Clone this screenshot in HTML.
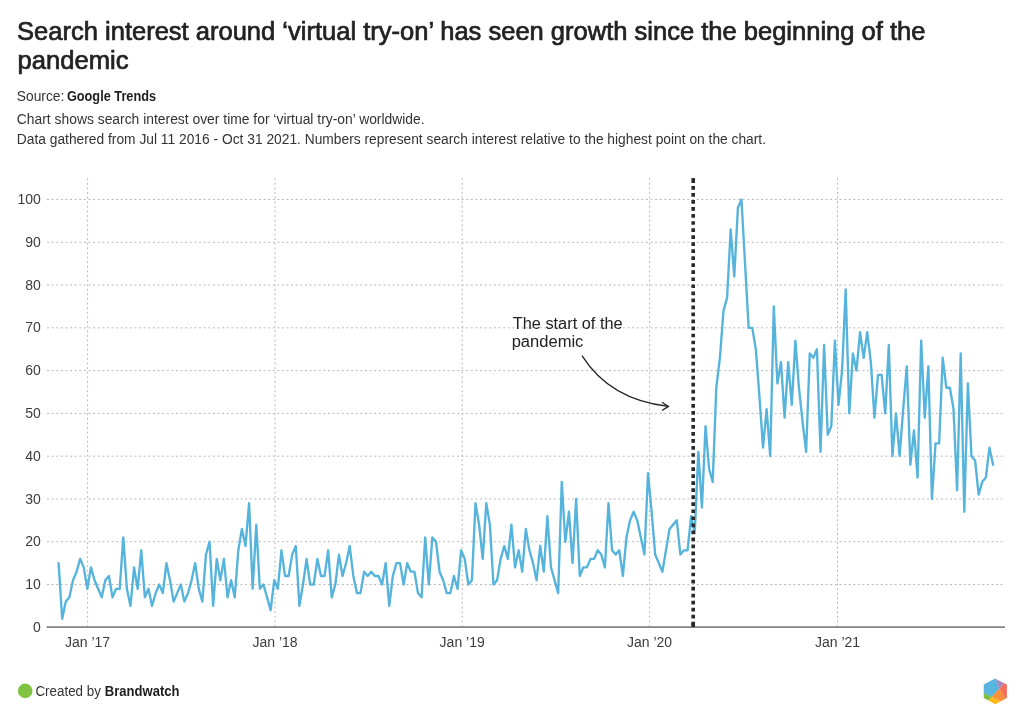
<!DOCTYPE html>
<html><head><meta charset="utf-8">
<style>
html,body{margin:0;padding:0;background:#fff;}
body{width:1024px;height:725px;position:relative;overflow:hidden;font-family:"Liberation Sans",sans-serif;}
svg{position:absolute;left:0;top:0;will-change:transform;}
</style></head><body>
<svg width="1024" height="725" viewBox="0 0 1024 725" font-family="Liberation Sans, sans-serif">
<g stroke="#b9b9b9" stroke-width="1" stroke-dasharray="2 2.607" fill="none"><line x1="47" y1="584.52" x2="1002.5" y2="584.52"/><line x1="47" y1="541.74" x2="1002.5" y2="541.74"/><line x1="47" y1="498.96" x2="1002.5" y2="498.96"/><line x1="47" y1="456.18" x2="1002.5" y2="456.18"/><line x1="47" y1="413.40" x2="1002.5" y2="413.40"/><line x1="47" y1="370.62" x2="1002.5" y2="370.62"/><line x1="47" y1="327.84" x2="1002.5" y2="327.84"/><line x1="47" y1="285.06" x2="1002.5" y2="285.06"/><line x1="47" y1="242.28" x2="1002.5" y2="242.28"/><line x1="47" y1="199.50" x2="1002.5" y2="199.50"/><line x1="87.6" y1="178.2" x2="87.6" y2="627"/><line x1="275.0" y1="178.2" x2="275.0" y2="627"/><line x1="462.2" y1="178.2" x2="462.2" y2="627"/><line x1="649.6" y1="178.2" x2="649.6" y2="627"/><line x1="837.5" y1="178.2" x2="837.5" y2="627"/></g>
<line x1="46.6" y1="627.15" x2="1005" y2="627.15" stroke="#858585" stroke-width="1.9"/>
<g font-size="14" fill="#3c3c3c" text-anchor="end"><text x="40.8" y="631.90">0</text><text x="40.8" y="589.12">10</text><text x="40.8" y="546.34">20</text><text x="40.8" y="503.56">30</text><text x="40.8" y="460.78">40</text><text x="40.8" y="418.00">50</text><text x="40.8" y="375.22">60</text><text x="40.8" y="332.44">70</text><text x="40.8" y="289.66">80</text><text x="40.8" y="246.88">90</text><text x="40.8" y="204.10">100</text></g>
<g font-size="14" fill="#3c3c3c" text-anchor="middle"><text x="87.6" y="646.8">Jan ’17</text><text x="275.0" y="646.8">Jan ’18</text><text x="462.2" y="646.8">Jan ’19</text><text x="649.6" y="646.8">Jan ’20</text><text x="837.5" y="646.8">Jan ’21</text></g>
<polyline points="58.60,563.13 62.19,618.74 65.79,601.63 69.38,597.35 72.98,580.24 76.57,571.69 80.16,558.85 83.76,567.41 87.35,588.80 90.95,567.41 94.54,580.24 98.13,588.80 101.73,597.35 105.32,580.24 108.92,575.96 112.51,597.35 116.10,588.80 119.70,588.80 123.29,537.46 126.89,588.80 130.48,605.91 134.07,567.41 137.67,588.80 141.26,550.30 144.86,597.35 148.45,588.80 152.04,605.91 155.64,593.08 159.23,584.52 162.83,593.08 166.42,563.13 170.01,580.24 173.61,601.63 177.20,593.08 180.80,584.52 184.39,601.63 187.98,593.08 191.58,580.24 195.17,563.13 198.77,588.80 202.36,601.63 205.95,554.57 209.55,541.74 213.14,605.91 216.74,558.85 220.33,580.24 223.92,558.85 227.52,597.35 231.11,580.24 234.71,597.35 238.30,550.30 241.89,528.91 245.49,546.02 249.08,503.24 252.68,588.80 256.27,524.63 259.86,588.80 263.46,584.52 267.05,597.35 270.65,610.19 274.24,580.24 277.83,588.80 281.43,550.30 285.02,575.96 288.62,575.96 292.21,554.57 295.80,546.02 299.40,605.91 302.99,584.52 306.59,558.85 310.18,584.52 313.77,584.52 317.37,558.85 320.96,575.96 324.56,575.96 328.15,550.30 331.74,597.35 335.34,584.52 338.93,554.57 342.53,575.96 346.12,563.13 349.71,546.02 353.31,575.96 356.90,593.08 360.50,593.08 364.09,571.69 367.68,575.96 371.28,571.69 374.87,575.96 378.47,575.96 382.06,584.52 385.65,563.13 389.25,605.91 392.84,575.96 396.44,563.13 400.03,563.13 403.62,584.52 407.22,563.13 410.81,571.69 414.41,571.69 418.00,593.08 421.59,597.35 425.19,537.46 428.78,584.52 432.38,537.46 435.97,541.74 439.56,571.69 443.16,580.24 446.75,593.08 450.35,593.08 453.94,575.96 457.53,588.80 461.13,550.30 464.72,558.85 468.32,584.52 471.91,580.24 475.50,503.24 479.10,524.63 482.69,558.85 486.29,503.24 489.88,524.63 493.47,584.52 497.07,580.24 500.66,558.85 504.26,546.02 507.85,558.85 511.44,524.63 515.04,567.41 518.63,550.30 522.23,571.69 525.82,528.91 529.41,550.30 533.01,563.13 536.60,580.24 540.20,546.02 543.79,571.69 547.38,516.07 550.98,567.41 554.57,580.24 558.17,593.08 561.76,481.85 565.35,541.74 568.95,511.79 572.54,563.13 576.14,498.96 579.73,575.96 583.32,567.41 586.92,567.41 590.51,558.85 594.11,558.85 597.70,550.30 601.29,554.57 604.89,567.41 608.48,503.24 612.08,550.30 615.67,554.57 619.26,550.30 622.86,575.96 626.45,537.46 630.05,520.35 633.64,511.79 637.23,520.35 640.83,537.46 644.42,554.57 648.02,473.29 651.61,511.79 655.20,554.57 658.80,563.13 662.39,571.69 665.99,550.30 669.58,528.91 673.17,524.63 676.77,520.35 680.36,554.57 683.96,550.30 687.55,550.30 691.14,516.07 694.74,533.18 698.33,451.90 701.93,507.52 705.52,426.23 709.11,469.01 712.71,481.85 716.30,387.73 719.90,357.79 723.49,310.73 727.08,297.89 730.68,229.45 734.27,276.50 737.87,208.06 741.46,199.50 745.05,263.67 748.65,327.84 752.24,327.84 755.84,349.23 759.43,396.29 763.02,447.62 766.62,409.12 770.21,456.18 773.81,306.45 777.40,383.45 780.99,362.06 784.59,417.68 788.18,362.06 791.78,404.84 795.37,340.67 798.96,387.73 802.56,421.96 806.15,451.90 809.75,353.51 813.34,357.79 816.93,349.23 820.53,451.90 824.12,344.95 827.72,434.79 831.31,426.23 834.90,340.67 838.50,404.84 842.09,370.62 845.69,289.34 849.28,413.40 852.87,353.51 856.47,370.62 860.06,332.12 863.66,357.79 867.25,332.12 870.84,362.06 874.44,417.68 878.03,374.90 881.63,374.90 885.22,413.40 888.81,344.95 892.41,456.18 896.00,413.40 899.60,456.18 903.19,409.12 906.78,366.34 910.38,464.74 913.97,430.51 917.57,477.57 921.16,340.67 924.75,417.68 928.35,366.34 931.94,498.96 935.54,443.35 939.13,443.35 942.72,357.79 946.32,387.73 949.91,387.73 953.51,409.12 957.10,490.40 960.69,353.51 964.29,511.79 967.88,383.45 971.48,456.18 975.07,460.46 978.66,494.68 982.26,481.85 985.85,477.57 989.45,447.62 993.04,464.74" fill="none" stroke="#56b4dc" stroke-width="2.35" stroke-linejoin="round" stroke-linecap="round"/>
<line x1="693.2" y1="178.1" x2="693.2" y2="183" stroke="#2a2a2a" stroke-width="3.6"/><line x1="693.2" y1="186" x2="693.2" y2="627" stroke="#2a2a2a" stroke-width="3.6" stroke-dasharray="3.7 3.33"/><line x1="693.2" y1="622.7" x2="693.2" y2="627" stroke="#2a2a2a" stroke-width="3.6"/>
<path d="M582,355.7 Q610,400 668.4,406.4" fill="none" stroke="#222" stroke-width="1.3"/>
<path d="M662,402.3 L668.4,406.4 L662,410.5" fill="none" stroke="#222" stroke-width="1.3"/>
<circle cx="25.2" cy="690.9" r="7.3" fill="#80c241"/>
<defs><mask id="hexm"><polygon points="994.99,679.61 1006.02,684.95 1006.02,697.41 995.25,703.32 984.63,697.41 984.63,684.95" fill="#fff" stroke="#fff" stroke-width="1.8" stroke-linejoin="round"/></mask></defs>
<g mask="url(#hexm)">
<polygon points="994.91,676.80 999.49,688.65 991.54,697.03 980.73,691.63 982.09,683.40" fill="#58b5de" stroke="#58b5de" stroke-width="0.3"/>
<polygon points="994.91,676.80 1005.90,681.46 999.49,688.65" fill="#a78ac3" stroke="#a78ac3" stroke-width="0.3"/>
<polygon points="1005.90,681.46 1008.55,683.40 1008.55,698.82 1007.45,702.32 999.49,688.65" fill="#f56f5c" stroke="#f56f5c" stroke-width="0.3"/>
<polygon points="999.49,688.65 1007.45,702.32 1003.67,702.83 991.54,697.03" fill="#f7913b" stroke="#f7913b" stroke-width="0.3"/>
<polygon points="991.54,697.03 1003.67,702.83 995.23,706.12 986.91,701.51" fill="#fcba17" stroke="#fcba17" stroke-width="0.3"/>
<polygon points="980.73,691.63 991.54,697.03 986.91,701.51 982.09,698.82" fill="#7cc142" stroke="#7cc142" stroke-width="0.3"/>
</g>
<text x="17.08" y="40.0" font-size="25" font-weight="400" fill="#222" stroke="#222" stroke-width="0.7" textLength="908.31" lengthAdjust="spacingAndGlyphs">Search interest around ‘virtual try-on’ has seen growth since the beginning of the</text>
<text x="17.58" y="68.6" font-size="25" font-weight="400" fill="#222" stroke="#222" stroke-width="0.7" textLength="110.84" lengthAdjust="spacingAndGlyphs">pandemic</text>
<text x="16.82" y="101.1" font-size="14" font-weight="400" fill="#333"  textLength="47.52" lengthAdjust="spacingAndGlyphs">Source:</text>
<text x="66.89" y="101.1" font-size="14" font-weight="700" fill="#1e1e1e"  textLength="89.22" lengthAdjust="spacingAndGlyphs">Google Trends</text>
<text x="16.81" y="123.8" font-size="14" font-weight="400" fill="#333"  textLength="407.84" lengthAdjust="spacingAndGlyphs">Chart shows search interest over time for ‘virtual try-on’ worldwide.</text>
<text x="16.82" y="143.6" font-size="14" font-weight="400" fill="#333"  textLength="749.22" lengthAdjust="spacingAndGlyphs">Data gathered from Jul 11 2016 - Oct 31 2021. Numbers represent search interest relative to the highest point on the chart.</text>
<text x="35.44" y="696.0" font-size="14" font-weight="400" fill="#333"  textLength="65.46" lengthAdjust="spacingAndGlyphs">Created by</text>
<text x="104.87" y="696.0" font-size="14" font-weight="700" fill="#1e1e1e"  textLength="74.58" lengthAdjust="spacingAndGlyphs">Brandwatch</text>
<text x="512.70" y="328.9" font-size="16" font-weight="400" fill="#222"  textLength="109.92" lengthAdjust="spacingAndGlyphs">The start of the</text>
<text x="511.67" y="347.3" font-size="16" font-weight="400" fill="#222"  textLength="71.72" lengthAdjust="spacingAndGlyphs">pandemic</text>

</svg>
</body></html>
